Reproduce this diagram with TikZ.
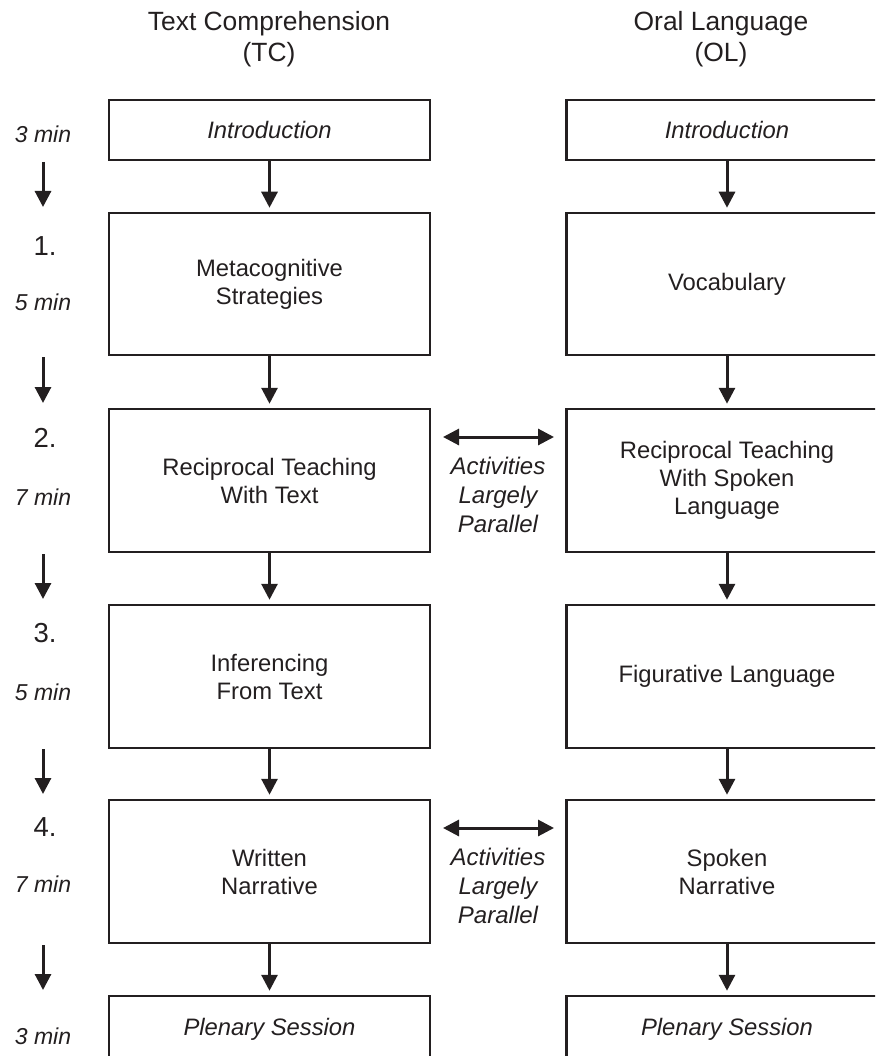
\documentclass[tikz,border=0pt]{standalone}
\usepackage{fontspec}
\setmainfont{Liberation Sans}
\usetikzlibrary{arrows.meta}
\definecolor{ink}{HTML}{231F20}
\begin{document}
\begin{tikzpicture}[x=1pt,y=-1pt,
  every node/.style={text=ink},
  txt/.style={font=\fontsize{23.8}{28}\selectfont, align=center},
  head/.style={font=\fontsize{26.4}{31}\selectfont, align=center},
  lbl/.style={font=\fontsize{23}{28}\selectfont\itshape},
  num/.style={font=\fontsize{27.5}{30}\selectfont},
  act/.style={align=center, font=\fontsize{24}{29}\selectfont\itshape},
  box/.style={draw=ink, line width=2.5pt, minimum width=321pt, inner sep=0pt, txt},
  arr/.style={draw=ink, line width=3pt, -{Triangle[length=16pt,width=16pt]}},
  darr/.style={draw=ink, line width=3pt, {Triangle[length=16pt,width=16pt]}-{Triangle[length=16pt,width=16pt]}}]
\useasboundingbox (0,0) rectangle (875,1056);
\clip (0,0) rectangle (875,1056);

% headings
\node[head] (hTC) at (269,39) {Text Comprehension\\(TC)};
\node[head] (hOL) at (721,39) {Oral Language\\(OL)};

% left column
\node[box, minimum height=60pt] (L0) at (269.5,130) {\itshape Introduction};
\node[box, minimum height=142pt] (L1) at (269.5,284) {Metacognitive\\Strategies};
\node[box, minimum height=143pt] (L2) at (269.5,480.5) {Reciprocal Teaching\\With Text};
\node[box, minimum height=143pt] (L3) at (269.5,676.5) {Inferencing\\From Text};
\node[box, minimum height=143pt] (L4) at (269.5,871.5) {Written\\Narrative};
\node[box, minimum height=66pt] (L5) at (269.5,1029) {\itshape Plenary Session};

% right column
\node[box, minimum height=60pt] (R0) at (727,130) {\itshape Introduction};
\node[box, minimum height=142pt] (R1) at (727,284) {Vocabulary};
\node[box, minimum height=143pt] (R2) at (727,480.5) {Reciprocal Teaching\\With Spoken\\Language};
\node[box, minimum height=143pt] (R3) at (727,676.5) {Figurative Language};
\node[box, minimum height=143pt] (R4) at (727,871.5) {Spoken\\Narrative};
\node[box, minimum height=66pt] (R5) at (727,1029) {\itshape Plenary Session};

% vertical arrows
\foreach \a/\b in {L0/L1,L1/L2,L2/L3,L3/L4,L4/L5,R0/R1,R1/R2,R2/R3,R3/R4,R4/R5}
  \draw[arr, shorten >=4pt] (\a.south) -- (\b.north);

% time labels
\node[lbl] (t0) at (43,134) {3 min};
\node[num] (n1) at (45,246) {1.};
\node[lbl] (t1) at (43,302) {5 min};
\node[num] (n2) at (45,438) {2.};
\node[lbl] (t2) at (43,497) {7 min};
\node[num] (n3) at (45,633) {3.};
\node[lbl] (t3) at (43,692) {5 min};
\node[num] (n4) at (45,827) {4.};
\node[lbl] (t4) at (43,884) {7 min};
\node[lbl] (t5) at (43,1036) {3 min};

% time arrows
\coordinate (a0s) at (43,162); \coordinate (a0e) at (43,207);
\coordinate (a1s) at (43,357); \coordinate (a1e) at (43,403);
\coordinate (a2s) at (43,554); \coordinate (a2e) at (43,599);
\coordinate (a3s) at (43,749); \coordinate (a3e) at (43,794);
\coordinate (a4s) at (43,945); \coordinate (a4e) at (43,990);
\foreach \i in {0,...,4}
  \draw[arr] (a\i s) -- (a\i e);

% parallel arrows
\coordinate (p1l) at (443,437); \coordinate (p1r) at (554,437);
\coordinate (p2l) at (443,828); \coordinate (p2r) at (554,828);
\draw[darr] (p1l) -- (p1r);
\draw[darr] (p2l) -- (p2r);
\node[act] (act1) at (498,495) {Activities\\Largely\\Parallel};
\node[act] (act2) at (498,886) {Activities\\Largely\\Parallel};
\end{tikzpicture}
\end{document}
